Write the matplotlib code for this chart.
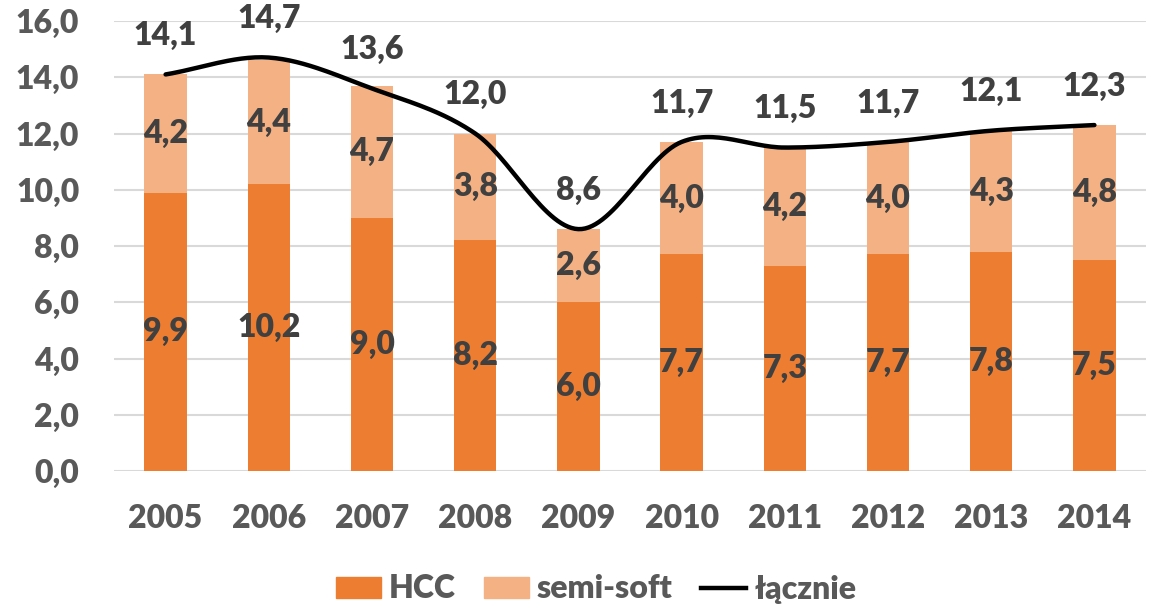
import numpy as np
import matplotlib
matplotlib.use('Agg')
import matplotlib.pyplot as plt
from matplotlib.patches import Patch
from matplotlib.lines import Line2D

years = ['2005', '2006', '2007', '2008', '2009', '2010', '2011', '2012', '2013', '2014']
hcc = [9.9, 10.2, 9.0, 8.2, 6.0, 7.7, 7.3, 7.7, 7.8, 7.5]
semi_soft = [4.2, 4.4, 4.7, 3.8, 2.6, 4.0, 4.2, 4.0, 4.3, 4.8]
total = [14.1, 14.7, 13.6, 12.0, 8.6, 11.7, 11.5, 11.7, 12.1, 12.3]
y_ticks = [0, 2, 4, 6, 8, 10, 12, 14, 16]

c_hcc = '#ED7D31'
c_semi = '#F4B183'
c_label = '#404040'
c_tick = '#595959'
W = 'heavy'
FS = 23

plt.rcParams['font.family'] = ['Lato', 'DejaVu Sans']


def fmt(v):
    return '{:.1f}'.format(v).replace('.', ',')


def smooth(xs, ys, n=30):
    # catmull-rom, like excel's smoothed line
    xs = np.asarray(xs, float)
    ys = np.asarray(ys, float)
    px = np.concatenate([[2 * xs[0] - xs[1]], xs, [2 * xs[-1] - xs[-2]]])
    py = np.concatenate([[2 * ys[0] - ys[1]], ys, [2 * ys[-1] - ys[-2]]])
    ox, oy = [], []
    for i in range(1, len(px) - 2):
        t = np.linspace(0, 1, n, endpoint=(i == len(px) - 3))
        for p, o in ((px, ox), (py, oy)):
            p0, p1, p2, p3 = p[i - 1], p[i], p[i + 1], p[i + 2]
            o.extend(0.5 * ((2 * p1) + (-p0 + p2) * t
                            + (2 * p0 - 5 * p1 + 4 * p2 - p3) * t ** 2
                            + (-p0 + 3 * p1 - 3 * p2 + p3) * t ** 3))
    return np.array(ox), np.array(oy)


fig = plt.figure(figsize=(11.56, 6.09), dpi=100)
ax = fig.add_axes([114 / 1156, 1 - 471 / 609, 1032 / 1156, 450 / 609])

x = np.arange(len(years))
ax.bar(x, hcc, width=0.41, color=c_hcc, zorder=2)
ax.bar(x, semi_soft, width=0.41, bottom=hcc, color=c_semi, zorder=2)

sx, sy = smooth(x, total)
ax.plot(sx, sy, color='black', lw=3.2, solid_capstyle='round', zorder=3)

for i in range(len(years)):
    ax.text(x[i], hcc[i] / 2, fmt(hcc[i]), ha='center', va='center',
            fontsize=FS, color=c_label, fontweight=W, zorder=4)
    ax.text(x[i], hcc[i] + semi_soft[i] / 2, fmt(semi_soft[i]), ha='center', va='center',
            fontsize=FS, color=c_label, fontweight=W, zorder=4)
    ax.annotate(fmt(total[i]), (x[i], total[i]), xytext=(0, 28), textcoords='offset points',
                ha='center', va='center', fontsize=FS, color=c_label, fontweight=W, zorder=4)

ax.set_xlim(-0.5, len(years) - 0.5)
ax.set_ylim(0, 16)
ax.set_yticks(y_ticks)
ax.set_yticklabels([fmt(v) for v in y_ticks])
ax.set_xticks(x)
ax.set_xticklabels(years)
ax.tick_params(axis='both', length=0, labelsize=FS, labelcolor=c_tick)
ax.tick_params(axis='x', pad=24)
ax.tick_params(axis='y', pad=25)
for lbl in ax.get_xticklabels() + ax.get_yticklabels():
    lbl.set_fontweight(W)
ax.grid(axis='y', color='#D9D9D9', lw=1.5, zorder=0)
ax.set_axisbelow(True)
for s in ax.spines.values():
    s.set_visible(False)

handles = [Patch(color=c_hcc), Patch(color=c_semi), Line2D([], [], color='black', lw=3.2)]
leg = fig.legend(handles, ['HCC', 'semi-soft', 'łącznie'], loc='center',
                 bbox_to_anchor=(596 / 1156, 1 - 589 / 609), ncol=3, frameon=False,
                 fontsize=FS, handlelength=1.4, handleheight=0.62, handletextpad=0.25,
                 columnspacing=0.9)
for t in leg.get_texts():
    t.set_color(c_tick)
    t.set_fontweight(W)

plt.savefig('out.png', dpi=100)
